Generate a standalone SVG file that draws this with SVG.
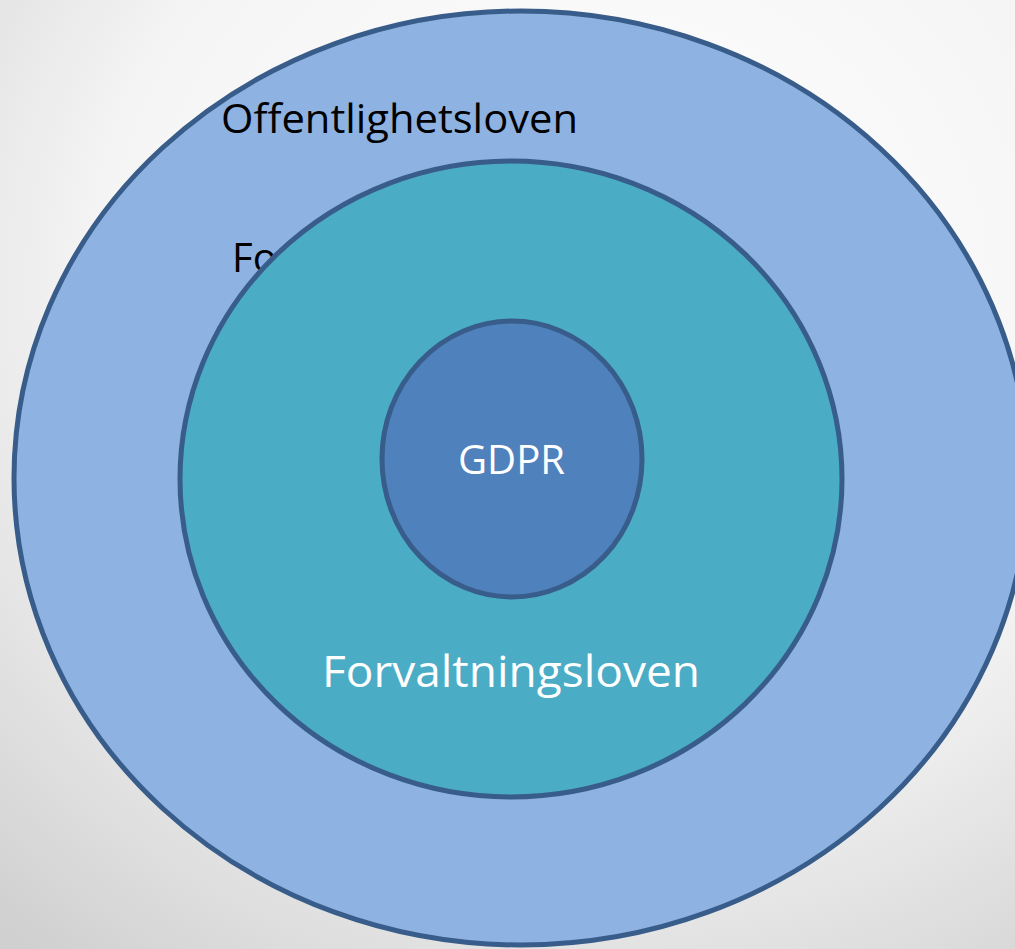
<svg xmlns="http://www.w3.org/2000/svg" width="1015" height="949" viewBox="0 0 1015 949">
  <defs>
    <radialGradient id="bg" cx="0.6" cy="0.3" r="0.9">
      <stop offset="0" stop-color="#ffffff"/>
      <stop offset="0.55" stop-color="#f5f5f5"/>
      <stop offset="1" stop-color="#d0d0d0"/>
    </radialGradient>
  </defs>
  <style>
    .ring { stroke: #385D8A; stroke-width: 5; }
    .lbl { font-family: "Open Sans", "Liberation Sans", sans-serif; }
    .dark { fill: #000000; }
    .light { fill: #ffffff; }
  </style>
  <rect x="0" y="0" width="1015" height="949" fill="url(#bg)"/>
  <g id="offentlighetsloven">
    <ellipse class="ring" cx="521" cy="478" rx="507" ry="467" fill="#8EB2E1"/>
    <text class="lbl dark" x="221" y="133" font-size="40" textLength="357" lengthAdjust="spacingAndGlyphs">Offentlighetsloven</text>
    <text class="lbl dark" x="232" y="272" font-size="40">Fo</text>
  </g>
  <g id="forvaltningsloven">
    <ellipse class="ring" cx="511" cy="479" rx="331" ry="318" fill="#4BACC6"/>
    <text class="lbl light" x="322" y="687" font-size="44" textLength="378" lengthAdjust="spacingAndGlyphs">Forvaltningsloven</text>
  </g>
  <g id="gdpr">
    <ellipse class="ring" cx="512" cy="459" rx="130" ry="138" fill="#4F81BD"/>
    <text class="lbl light" x="458" y="474" font-size="41" textLength="107" lengthAdjust="spacingAndGlyphs">GDPR</text>
  </g>
  <g id="connectors"/>
</svg>
